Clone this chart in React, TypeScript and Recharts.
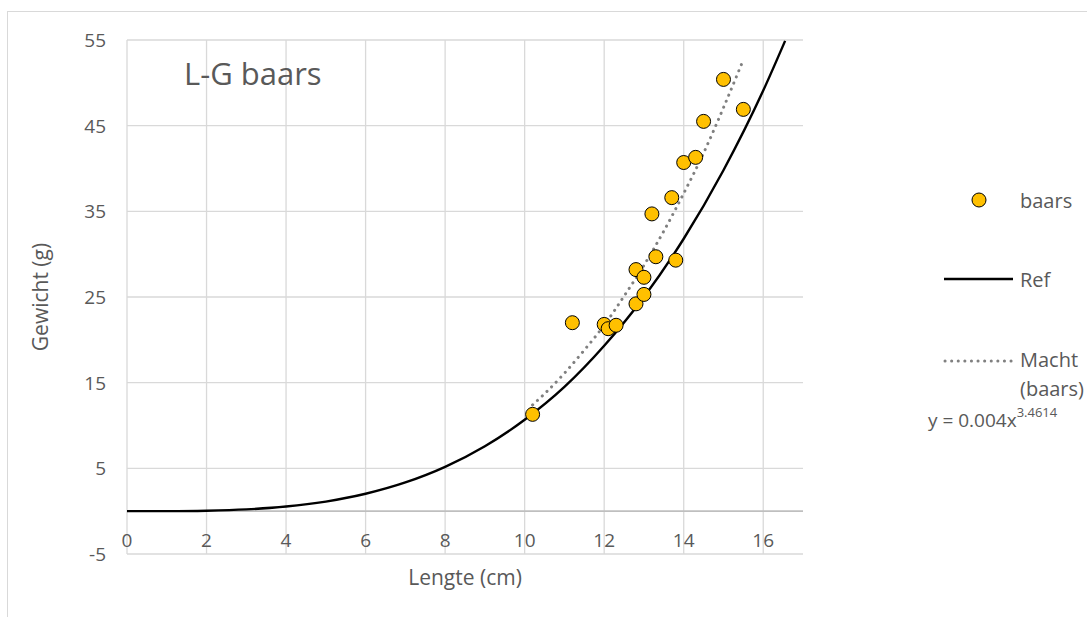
import React from "react";
import {
  ComposedChart,
  Scatter,
  Line,
  XAxis,
  YAxis,
  CartesianGrid,
  ReferenceLine,
  Label,
} from "recharts";

// ---- data ----
const baarsLengths = [10.2, 11.2, 12.0, 12.1, 12.3, 12.8, 13.0, 12.8, 13.0, 13.3, 13.8, 13.2, 13.7, 14.0, 14.3, 14.5, 15.0, 15.5];
const baarsWeights = [11.3, 22.0, 21.8, 21.3, 21.7, 24.2, 25.3, 28.2, 27.3, 29.7, 29.3, 34.7, 36.6, 40.7, 41.3, 45.5, 50.4, 46.9];

const refLengths = [0, 1, 2, 3, 4, 5, 6, 7, 8, 9, 10, 11, 12, 13, 14, 15, 16, 16.55];
const refWeights = [0, 0.006, 0.057, 0.21, 0.54, 1.12, 2.03, 3.35, 5.17, 7.58, 10.67, 14.5, 19.3, 25.0, 31.8, 39.8, 49.1, 54.9];

const trendLengths = [10.2, 10.5, 11, 11.5, 12, 12.5, 13, 13.5, 14, 14.5, 15, 15.5];
const trendWeights = [12.4, 13.7, 16.1, 18.8, 21.7, 25.1, 28.7, 32.7, 37.1, 41.8, 47.1, 52.7];

const xTicks = [0, 2, 4, 6, 8, 10, 12, 14, 16];
const yTicks = [-5, 5, 15, 25, 35, 45, 55];

const title = "L-G baars";
const xTitle = "Lengte (cm)";
const yTitle = "Gewicht (g)";
const seriesNames = ["baars", "Ref", "Macht", "(baars)"];
const equation = { base: "y = 0.004x", exp: "3.4614" };

const baarsData = baarsLengths.map((x, i) => ({ x, y: baarsWeights[i] }));
const refData = refLengths.map((x, i) => ({ x, y: refWeights[i] }));
const trendData = trendLengths.map((x, i) => ({ x, y: trendWeights[i] }));

const FONT = "'Open Sans', sans-serif";
const TEXT = "#595959";
const GRID = "#d9d9d9";
const GOLD = "#FFC000";

const XTick = (props: any) => {
  const { x, y, payload } = props;
  return (
    <text x={x} y={y - 22} textAnchor="middle" dominantBaseline="central" fontFamily={FONT} fontSize={19} fill={TEXT}>
      {payload.value}
    </text>
  );
};

const YTick = (props: any) => {
  const { x, y, payload } = props;
  return (
    <text x={x} y={y} textAnchor="end" dominantBaseline="central" fontFamily={FONT} fontSize={19} fill={TEXT}>
      {payload.value}
    </text>
  );
};

const Dot = (props: any) => {
  const { cx, cy } = props;
  if (cx == null || cy == null) return null;
  return <circle cx={cx} cy={cy} r={7} fill={GOLD} stroke="#000" strokeWidth={1} />;
};

export default function App() {
  return (
    <div style={{ position: "fixed", left: 0, top: 0, width: 1087, height: 617, background: "#fff", overflow: "hidden" }}>
      <div
        style={{
          position: "absolute",
          left: 7,
          top: 11,
          width: 1090,
          height: 620,
          borderTop: `1px solid ${GRID}`,
          borderLeft: `1px solid ${GRID}`,
        }}
      />
      <div style={{ position: "absolute", left: 0, top: 0 }}>
        <ComposedChart width={1087} height={617} margin={{ top: 40, right: 284, bottom: 33, left: 67 }}>
          <CartesianGrid stroke={GRID} strokeWidth={1.3} verticalValues={xTicks} horizontalValues={yTicks} />
          <XAxis
            type="number"
            dataKey="x"
            domain={[0, 17]}
            ticks={xTicks}
            interval={0}
            allowDataOverflow
            axisLine={false}
            tickLine={false}
            height={30}
            tick={<XTick />}
          >
            <Label
              content={(p: any) => {
                const vb = p.viewBox;
                return (
                  <text x={vb.x + vb.width / 2} y={577} textAnchor="middle" dominantBaseline="central" fontFamily={FONT} fontSize={21} fill={TEXT}>
                    {xTitle}
                  </text>
                );
              }}
            />
          </XAxis>
          <YAxis
            type="number"
            domain={[-5, 55]}
            ticks={yTicks}
            interval={0}
            allowDataOverflow
            axisLine={false}
            tickLine={false}
            width={60}
            tickMargin={15}
            tick={<YTick />}
          >
            <Label
              content={(p: any) => {
                const vb = p.viewBox;
                const cy = vb.y + vb.height / 2;
                return (
                  <text x={40} y={cy} transform={`rotate(-90 40 ${cy})`} textAnchor="middle" dominantBaseline="central" fontFamily={FONT} fontSize={21} fill={TEXT}>
                    {yTitle}
                  </text>
                );
              }}
            />
          </YAxis>
          <ReferenceLine y={0} stroke="#bfbfbf" strokeWidth={1.8} />
          <Line
            data={refData}
            dataKey="y"
            type="monotone"
            stroke="#000"
            strokeWidth={2.4}
            dot={false}
            activeDot={false}
            isAnimationActive={false}
          />
          <Line
            data={trendData}
            dataKey="y"
            type="monotone"
            stroke="#808080"
            strokeWidth={3}
            strokeDasharray="0.1 6.5"
            strokeLinecap="round"
            dot={false}
            activeDot={false}
            isAnimationActive={false}
          />
          <Scatter data={baarsData} dataKey="y" shape={<Dot />} isAnimationActive={false} />
        </ComposedChart>
      </div>
      <svg width={1087} height={617} style={{ position: "absolute", left: 0, top: 0, pointerEvents: "none" }}>
        <text x={184} y={85} fontFamily={FONT} fontSize={31} fill={TEXT}>
          {title}
        </text>
        <circle cx={979} cy={200} r={7} fill={GOLD} stroke="#000" strokeWidth={1} />
        <text x={1020} y={200} dominantBaseline="central" fontFamily={FONT} fontSize={20} fill={TEXT}>
          {seriesNames[0]}
        </text>
        <line x1={944} x2={1013} y1={279} y2={279} stroke="#000" strokeWidth={2.4} />
        <text x={1020} y={279} dominantBaseline="central" fontFamily={FONT} fontSize={20} fill={TEXT}>
          {seriesNames[1]}
        </text>
        <line x1={945} x2={1013} y1={361} y2={361} stroke="#808080" strokeWidth={3} strokeDasharray="0.1 6.5" strokeLinecap="round" />
        <text x={1020} y={359} dominantBaseline="central" fontFamily={FONT} fontSize={20} fill={TEXT}>
          {seriesNames[2]}
        </text>
        <text x={1020} y={388} dominantBaseline="central" fontFamily={FONT} fontSize={20} fill={TEXT}>
          {seriesNames[3]}
        </text>
        <text x={928} y={420} dominantBaseline="central" fontFamily={FONT} fontSize={19} fill={TEXT}>
          {equation.base}
          <tspan fontSize={13} dy={-8}>{equation.exp}</tspan>
        </text>
      </svg>
    </div>
  );
}
